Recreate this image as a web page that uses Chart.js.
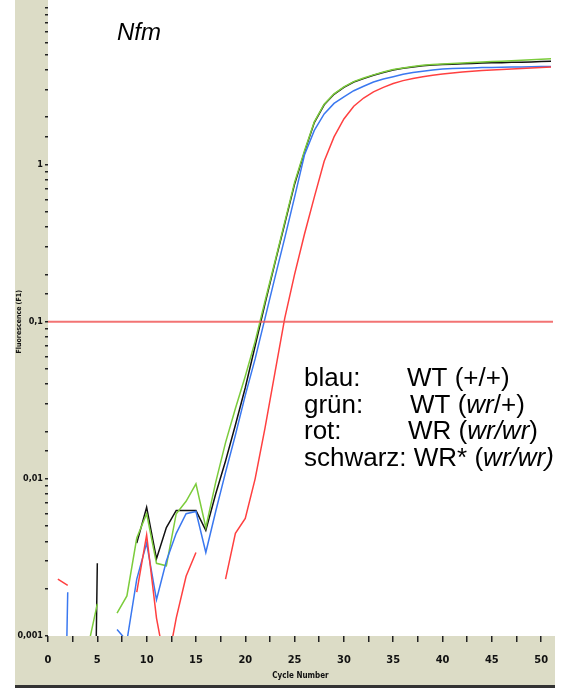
<!DOCTYPE html>
<html>
<head>
<meta charset="utf-8">
<script src="https://cdn.jsdelivr.net/npm/chart.js@4.4.1/dist/chart.umd.min.js"></script>
<style>
  body { margin: 0; background: #fff; }
  #myChart { display: block; }
</style>
</head>
<body>
<canvas id="myChart" width="577" height="691"></canvas>
<script>
// Zyklen 1..51
const cycles = [1,2,3,4,5,6,7,8,9,10,11,12,13,14,15,16,17,18,19,20,21,22,23,24,25,26,27,28,29,30,31,32,33,34,35,36,37,38,39,40,41,42,43,44,45,46,47,48,49,50,51];

// blau: WT (+/+)
const blau = [0.000001,0.0019,null,null,null,null,0.0011,0.00093,0.0023,0.0039,0.0017,0.003,0.0045,0.006,0.0062,0.0034,0.0062,0.011,0.019,0.034,0.058,0.105,0.19,0.34,0.62,1.15,1.65,2.1,2.45,2.7,2.95,3.15,3.35,3.5,3.62,3.75,3.85,3.93,4.0,4.05,4.08,4.1,4.12,4.14,4.15,4.16,4.17,4.18,4.19,4.2,4.2];
// grün: WT (wr/+)
const gruen = [null,null,null,0.00082,0.0016,null,0.0014,0.0018,0.0042,0.006,0.0029,0.0028,0.006,0.0072,0.0093,0.0049,0.0095,0.017,0.028,0.045,0.075,0.135,0.24,0.43,0.77,1.22,1.87,2.42,2.82,3.12,3.37,3.55,3.72,3.88,4.02,4.12,4.2,4.28,4.33,4.37,4.4,4.43,4.46,4.49,4.52,4.55,4.58,4.61,4.64,4.68,4.72];
// rot: WR (wr/wr)
const rot = [0.0023,0.0021,null,null,null,null,null,null,0.0019,0.0044,0.0013,0.0006,0.0013,0.0024,0.0034,null,null,0.0023,0.0045,0.0056,0.01,0.021,0.047,0.105,0.2,0.36,0.62,1.05,1.5,1.95,2.35,2.65,2.9,3.1,3.28,3.42,3.53,3.62,3.7,3.77,3.83,3.88,3.93,3.97,4.0,4.03,4.06,4.09,4.11,4.14,4.17];
// schwarz: WR* (wr/wr)
const schwarz = [null,null,null,0.0000001,0.0029,null,null,null,0.0039,0.0066,0.0031,0.0049,0.0063,0.0063,0.0063,0.0047,0.008,0.013,0.022,0.038,0.07,0.13,0.235,0.42,0.75,1.2,1.85,2.4,2.8,3.1,3.35,3.52,3.7,3.85,4.0,4.1,4.18,4.25,4.3,4.33,4.35,4.38,4.4,4.42,4.44,4.45,4.47,4.48,4.5,4.52,4.55];

// Threshold
const thresholdX = [0, 51.2];
const thresholdY = [0.1, 0.1];

// Achsen
const yTickValues = [0.001, 0.01, 0.1, 1];
const yTickLabels = ['0,001', '0,01', '0,1', '1'];

// Beschriftung
const titel = 'Nfm';
const legendeNamen = ['blau:', 'grün:', 'rot:', 'schwarz:'];
const legendeTexte = [
  [['WT (+/+)', false]],
  [['WT (', false], ['wr', true], ['/+)', false]],
  [['WR (', false], ['wr/wr', true], [')', false]],
  [['WR* (', false], ['wr/wr)', true]]
];

function punkte(werte) {
  return cycles.map(function(c, i) { return { x: c, y: werte[i] }; });
}

const beige = '#dcdcc6';
const schrift = "'Liberation Sans', Arial, sans-serif";
const schmal = "'DejaVu Sans Condensed', 'Liberation Sans Narrow', 'Liberation Sans', sans-serif";

const hintergrund = {
  id: 'hintergrund',
  beforeDraw(chart) {
    const ctx = chart.ctx;
    ctx.save();
    ctx.fillStyle = beige;
    ctx.fillRect(15, 0, 33, 640);
    ctx.fillRect(15, 636, 540, 49);
    ctx.fillStyle = '#333';
    ctx.fillRect(15, 685, 540, 3);
    ctx.restore();
  }
};

const texte = {
  id: 'texte',
  afterDraw(chart) {
    const ctx = chart.ctx;
    ctx.save();
    ctx.fillStyle = '#000';
    ctx.textBaseline = 'alphabetic';
    ctx.font = 'italic 24px ' + schrift;
    ctx.fillText(titel, 117, 40);

    const zeilenY = [386, 413, 439, 466];
    const spalteX = [407, 410, 408, 405];
    for (let i = 0; i < legendeNamen.length; i++) {
      ctx.font = '26px ' + schrift;
      ctx.fillText(legendeNamen[i], 304, zeilenY[i]);
      let x = spalteX[i];
      if (i == 3) {
        x = 304 + ctx.measureText(legendeNamen[i] + ' ').width;
      }
      legendeTexte[i].forEach(function(teil) {
        ctx.font = (teil[1] ? 'italic ' : '') + '26px ' + schrift;
        ctx.fillText(teil[0], x, zeilenY[i]);
        x += ctx.measureText(teil[0]).width;
      });
    }
    ctx.restore();
  }
};

const ctx = document.getElementById('myChart');
new Chart(ctx, {
  type: 'line',
  data: {
    datasets: [
      {
        label: 'Threshold',
        data: thresholdX.map(function(x, i) { return { x: x, y: thresholdY[i] }; }),
        borderColor: 'rgba(240,90,90,0.85)',
        borderWidth: 2,
        pointRadius: 0
      },
      { label: 'rot', data: punkte(rot), borderColor: '#ff4040', borderWidth: 1.5, pointRadius: 0 },
      { label: 'blau', data: punkte(blau), borderColor: '#3a78f0', borderWidth: 1.5, pointRadius: 0 },
      { label: 'grün', data: punkte(gruen), borderColor: '#7ccc3c', borderWidth: 1.5, pointRadius: 0 },
      { label: 'schwarz', data: punkte(schwarz), borderColor: '#111111', borderWidth: 1.5, pointRadius: 0 }
    ]
  },
  options: {
    responsive: false,
    animation: false,
    spanGaps: false,
    layout: { padding: { left: 15, right: 24, top: 5, bottom: 10 } },
    plugins: {
      legend: { display: false },
      tooltip: { enabled: false }
    },
    scales: {
      x: {
        type: 'linear',
        min: 0,
        max: 51.2,
        border: { display: false },
        grid: { drawOnChartArea: false, drawTicks: true, tickLength: 6, color: '#222', lineWidth: 1.5 },
        ticks: {
          stepSize: 2.5,
          includeBounds: false,
          autoSkip: false,
          maxRotation: 0,
          padding: 12,
          color: '#111',
          font: { family: schmal, size: 11, weight: 'bold' },
          callback: function(v) { return v % 5 === 0 ? v : ''; }
        },
        title: {
          display: true,
          text: 'Cycle Number',
          color: '#111',
          padding: { top: 0, bottom: 0 },
          font: { family: schmal, size: 8, weight: 'bold' }
        },
        afterFit: function(scale) { scale.height = 45; }
      },
      y: {
        type: 'logarithmic',
        min: 0.001,
        max: 10,
        border: { display: false },
        grid: { drawOnChartArea: false, drawTicks: true, tickLength: 3, color: '#222', lineWidth: 1.5 },
        ticks: {
          autoSkip: false,
          padding: 2,
          color: '#111',
          font: { family: schmal, size: 9, weight: 'bold' },
          callback: function(v) {
            const i = yTickValues.findIndex(function(t) { return Math.abs(t - v) / t < 1e-6; });
            return i >= 0 ? yTickLabels[i] : '';
          }
        },
        title: {
          display: true,
          text: 'Fluorescence (F1)',
          color: '#111',
          padding: { top: 0, bottom: 0 },
          font: { family: schmal, size: 7, weight: 'bold' }
        },
        afterFit: function(scale) { scale.width = 33; }
      }
    }
  },
  plugins: [hintergrund, texte]
});
</script>
</body>
</html>
